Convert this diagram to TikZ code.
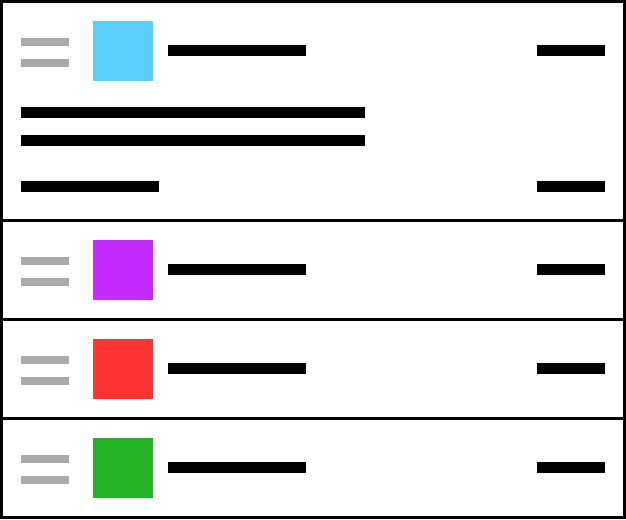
\documentclass[tikz,border=0pt]{standalone}
\definecolor{skyblue}{HTML}{5BCEFA}
\definecolor{violet}{HTML}{C42BFF}
\definecolor{brightred}{HTML}{FF3434}
\definecolor{leafgreen}{HTML}{25B228}
\definecolor{handlegray}{HTML}{AAAAAA}

\begin{document}
\begin{tikzpicture}[x=1pt,y=-1pt,
    box/.style={rectangle, inner sep=0pt, outer sep=0pt, anchor=north west},
    handle/.style={box, fill=handlegray, minimum width=48pt, minimum height=8pt},
    swatch/.style={box, fill=#1, minimum width=60pt, minimum height=60pt},
    bar/.style={box, fill=black, minimum width=#1, minimum height=11pt}]

      \useasboundingbox (0,0) rectangle (626,519);
      \fill[white] (0,0) rectangle (626,519);

      % expanded item
      \node[handle] (gripA1) at (21,38) {};
      \node[handle] (gripA2) at (21,59) {};
      \node[swatch=skyblue] (iconA) at (93,21) {};
      \node[bar=138pt] (titleA) at (168,45) {};
      \node[bar=68pt] (valueA) at (537,45) {};
      \node[bar=344pt] (lineA1) at (21,107) {};
      \node[bar=344pt] (lineA2) at (21,135) {};
      \node[bar=138pt] (footA) at (21,181) {};
      \node[bar=68pt] (totalA) at (537,181) {};

      % collapsed items
      \foreach \name/\col/\top in {B/violet/219, C/brightred/318, D/leafgreen/417} {
        \node[handle] (grip\name1) at (21,\top+38) {};
        \node[handle] (grip\name2) at (21,\top+59) {};
        \node[swatch=\col] (icon\name) at (93,\top+21) {};
        \node[bar=138pt] (title\name) at (168,\top+45) {};
        \node[bar=68pt] (value\name) at (537,\top+45) {};
      }

      \draw[line width=3pt] (1.5,1.5) rectangle (624.5,517.5);
      \draw[line width=3pt] (0,220.5) -- (626,220.5);
      \draw[line width=3pt] (0,319.5) -- (626,319.5);
      \draw[line width=3pt] (0,418.5) -- (626,418.5);

    \end{tikzpicture}
\end{document}
